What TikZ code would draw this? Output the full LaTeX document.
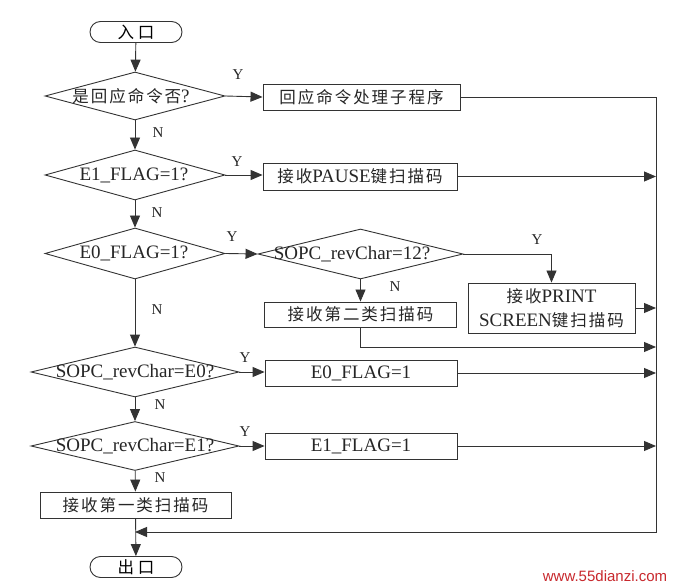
\documentclass[tikz,border=0pt]{standalone}
\usepackage{fontspec}
\setmainfont{Liberation Serif}
\newfontfamily\cjkfont[LetterSpace=12]{Noto Sans CJK SC}
\newfontfamily\wmfont{Liberation Sans}
\usetikzlibrary{shapes.geometric,shapes.misc,arrows.meta}
\definecolor{lncol}{HTML}{333333}
\definecolor{wmcol}{HTML}{C8282D}
\newcommand\zh[1]{{\cjkfont\fontsize{16.5}{20}\selectfont #1}}
\tikzset{
  lnk/.style={draw=lncol, line width=0.9pt},
  arr/.style={draw=lncol, line width=0.9pt, -{Triangle[length=12pt,width=10pt]}},
  dia/.style={diamond, draw=lncol, line width=0.9pt, inner sep=0pt},
  boxn/.style={rectangle, draw=lncol, line width=0.9pt, inner sep=0pt, minimum height=26pt, font=\fontsize{19}{24}\selectfont, text=black!85},
  term/.style={rounded rectangle, draw=lncol, line width=0.9pt, inner sep=0pt, minimum width=92pt, minimum height=21pt},
  txt/.style={inner sep=0pt, font=\fontsize{19}{24}\selectfont, text=black!85},
  yn/.style={inner sep=0pt, font=\fontsize{15}{15}\selectfont, text=black!85}
}
\begin{document}
\begin{tikzpicture}[x=1pt,y=-1pt]
\useasboundingbox[fill=white] (0,0) rectangle (675,588);

% terminals
\node[term] (entry) at (136,32) {\zh{入\hspace{4pt}口}};
\node[term] (exit) at (136,567) {\zh{出\hspace{4pt}口}};

% diamonds
\node[dia, minimum width=180pt, minimum height=48pt] (d1) at (135,96) {};
\node[txt] (d1t) at (131,96) {\zh{是回应命令否}?};
\node[dia, minimum width=180pt, minimum height=50pt] (d2) at (135,175) {};
\node[txt] (d2t) at (134,175) {E1\_FLAG=1?};
\node[dia, minimum width=180pt, minimum height=51pt] (d3) at (135,253.5) {};
\node[txt] (d3t) at (134,253.5) {E0\_FLAG=1?};
\node[dia, minimum width=205pt, minimum height=50pt] (d4) at (360.5,254) {};
\node[txt] (d4t) at (352,254) {SOPC\_revChar=12?};
\node[dia, minimum width=208pt, minimum height=50pt] (d5) at (135,372) {};
\node[txt] (d5t) at (135,372) {SOPC\_revChar=E0?};
\node[dia, minimum width=208pt, minimum height=49pt] (d6) at (135,446) {};
\node[txt] (d6t) at (135,446) {SOPC\_revChar=E1?};

% boxes
\node[boxn, minimum width=197pt] (b1) at (361.5,97) {\zh{回应命令处理子程序}};
\node[boxn, minimum width=194pt, minimum height=27pt] (b2) at (360,176.5) {\zh{接收}PAUSE\zh{键扫描码}};
\node[boxn, minimum width=167pt, minimum height=50pt, align=center] (b3) at (551.5,308) {\zh{接收}PRINT\\SCREEN\zh{键扫描码}};
\node[boxn, minimum width=192pt, minimum height=25pt] (b4) at (360.5,314.5) {\zh{接收第二类扫描码}};
\node[boxn, minimum width=192pt] (b5) at (361,373) {E0\_FLAG=1};
\node[boxn, minimum width=192pt] (b6) at (361,446) {E1\_FLAG=1};
\node[boxn, minimum width=191pt] (b7) at (135.5,505) {\zh{接收第一类扫描码}};

% rail coordinates
\coordinate (rt) at (656,97);
\coordinate (r4) at (656,347);
\coordinate (rb) at (656,532);
\coordinate (jn) at (135,532);

% main flow
\draw[arr] (entry) -- (d1);
\draw[arr] (d1) -- (d2);
\draw[arr] (d2) -- (d3);
\draw[arr] (d3) -- (d5);
\draw[arr] (d5) -- (d6);
\draw[arr] (d6) -- (b7);
\draw[arr] (b7) -- (exit);

% Y branches
\draw[arr] (d1.east) -- (b1.west);
\draw[arr] (d2.east) -- (d2.east -| b2.west);
\draw[arr] (d3.east) -- (d4.west);
\draw[arr] (d5.east) -- (d5.east -| b5.west);
\draw[arr] (d6.east) -- (d6.east -| b6.west);
\draw[arr] (d4.east) -| (b3.north);
\draw[arr] (d4.south) -- (b4.north);

% to rail
\draw[arr] (b1.east) -- (rt) -- (rb) -- (jn);
\draw[arr] (b2.east) -- (b2.east -| rt);
\draw[arr] (b3.east) -- (b3.east -| rt);
\draw[arr] (b4.south) |- (r4);
\draw[arr] (b5.east) -- (b5.east -| rt);
\draw[arr] (b6.east) -- (b6.east -| rt);

% labels
\node[yn] (y1) at (238,75) {Y};
\node[yn] (n1) at (158,133) {N};
\node[yn] (y2) at (237,162) {Y};
\node[yn] (n2) at (157,213) {N};
\node[yn] (y3) at (232,237) {Y};
\node[yn] (y4) at (537,240) {Y};
\node[yn] (n4) at (395,287) {N};
\node[yn] (n3) at (157,310) {N};
\node[yn] (y5) at (245,358) {Y};
\node[yn] (n5) at (160,405) {N};
\node[yn] (y6) at (245,432) {Y};
\node[yn] (n6) at (160,478) {N};

% watermark
\node[inner sep=0pt, text=wmcol, font=\wmfont\fontsize{15}{15}\selectfont] (wm) at (605,576) {www.55dianzi.com};
\end{tikzpicture}
\end{document}
